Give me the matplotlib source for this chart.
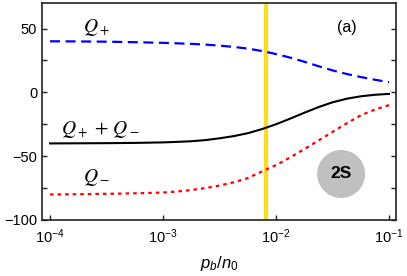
import matplotlib
matplotlib.use("Agg")
import matplotlib.pyplot as plt
from matplotlib.patches import Ellipse
from matplotlib.ticker import MultipleLocator, FixedLocator, NullLocator
import numpy as np

plt.rcParams['font.family'] = ['Liberation Sans', 'DejaVu Sans']
plt.rcParams['mathtext.fontset'] = 'custom'
plt.rcParams['mathtext.rm'] = 'Liberation Sans'
plt.rcParams['mathtext.it'] = 'Liberation Sans:italic'
plt.rcParams['mathtext.sf'] = 'Liberation Sans'

# data: x = p_b/n_0 (log10 of value)
log_x = [-4.0, -3.75, -3.5, -3.25, -3.0, -2.875, -2.75, -2.625, -2.5, -2.375, -2.25,
         -2.125, -2.0, -1.875, -1.75, -1.625, -1.5, -1.375, -1.25, -1.125, -1.0]
q_plus = [40.0, 39.9, 39.7, 39.3, 38.8, 38.4, 38.0, 37.4, 36.6, 35.6, 34.3,
          32.4, 30.0, 27.2, 24.0, 20.5, 17.2, 14.4, 12.0, 9.9, 8.0]
q_sum = [-40.0, -39.9, -39.8, -39.6, -39.2, -38.8, -38.3, -37.4, -36.0, -34.3, -32.0,
         -28.8, -25.0, -20.6, -16.0, -11.6, -7.8, -5.0, -3.1, -1.9, -1.2]
q_minus = [-80.0, -79.8, -79.5, -79.1, -78.5, -77.7, -76.5, -75.0, -73.0, -70.5, -67.2,
           -62.0, -57.0, -51.0, -44.5, -37.8, -31.0, -24.3, -18.0, -13.5, -10.0]
vline_x = 8.2e-3
xticks = [1e-4, 1e-3, 1e-2, 1e-1]
yticks = [-100, -50, 0, 50]

x = 10.0 ** np.array(log_x)

fig = plt.figure(figsize=(4.07, 2.76), dpi=100)
ax = fig.add_axes([0.1032, 0.2029, 0.8698, 0.7862])

ax.plot(x, q_plus, color='#0000ff', lw=1.6, ls=(0, (4.5, 2.5)))
ax.plot(x, q_sum, color='black', lw=1.5)
ax.plot(x, q_minus, color='#ff0000', lw=1.6, ls=(0, (1.6, 1.8)))
ax.axvline(vline_x, color='#f7dc2a', lw=3.2, zorder=1)

ax.set_xscale('log')
ax.set_xlim(10 ** -4.071, 10 ** -0.938)
ax.set_ylim(-100, 70)
ax.xaxis.set_major_locator(FixedLocator(xticks))
ax.xaxis.set_minor_locator(NullLocator())
ax.yaxis.set_major_locator(FixedLocator(yticks))
ax.yaxis.set_minor_locator(MultipleLocator(25))

for s in ax.spines.values():
    s.set_linewidth(1.2)
    s.set_color('#222222')
ax.tick_params(which='both', direction='in', length=3.5, width=1.0,
               top=False, right=True, labelsize=10.5, color='#222222')
ax.tick_params(axis='x', pad=5)

ax.set_xlabel(r'$p_b/n_0$', fontsize=12, labelpad=6)

ax.text(0.1525, 0.889, r'$Q_+$', transform=ax.transAxes, ha='center', va='center',
        fontsize=14, math_fontfamily='stix')
ax.text(0.165, 0.415, r'$Q_+\,+\,Q_-$', transform=ax.transAxes, ha='center', va='center',
        fontsize=14, math_fontfamily='stix')
ax.text(0.1525, 0.194, r'$Q_-$', transform=ax.transAxes, ha='center', va='center',
        fontsize=14, math_fontfamily='stix')
ax.text(0.862, 0.885, '(a)', transform=ax.transAxes, ha='center', va='center', fontsize=11.5)

circ = Ellipse((0.845, 0.212), width=48 / 354, height=48 / 217, transform=ax.transAxes,
               facecolor='#c0c0c0', edgecolor='none', zorder=3)
ax.add_patch(circ)
ax.text(0.845, 0.212, '2S', transform=ax.transAxes, ha='center', va='center',
        fontsize=12.5, fontweight='bold', zorder=4)

fig.savefig('out.png', dpi=100)
